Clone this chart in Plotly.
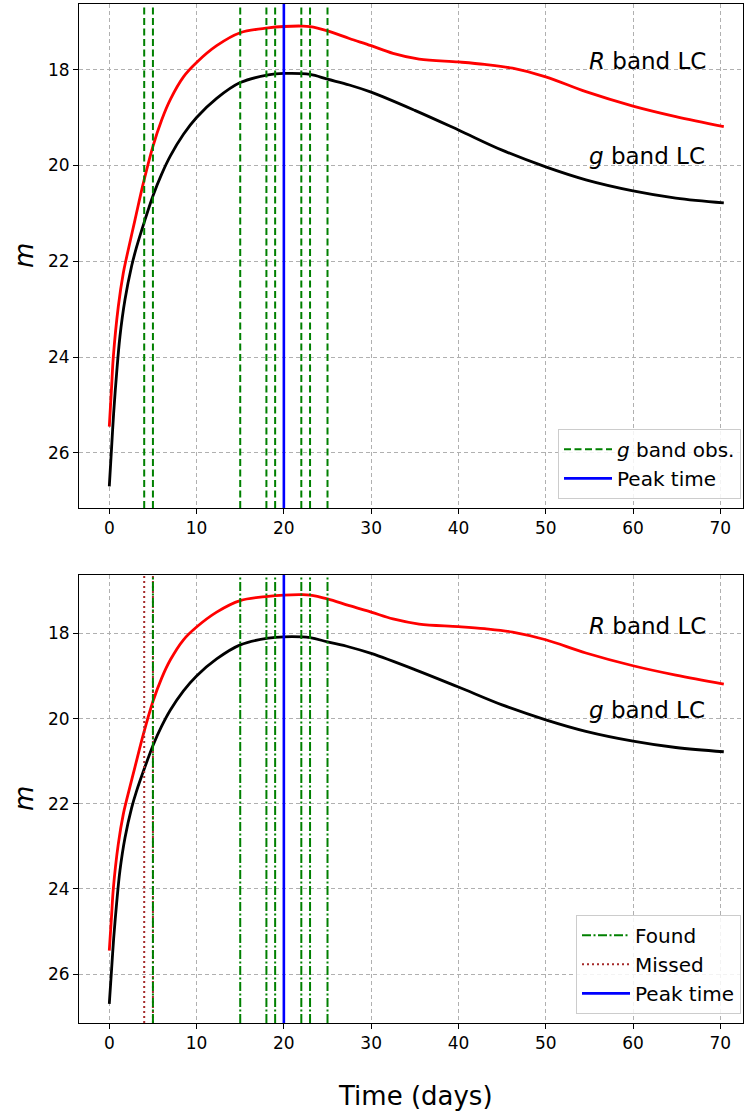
import plotly.graph_objects as go

# ---------------- data ----------------
r_time = [0, 0.27, 0.46, 1.03, 1.6, 2.0, 2.94, 3.9, 5.0, 6.0, 7.0, 8.5, 10, 12.3, 15,
          18.2, 20, 22, 23, 25, 27.5, 30, 32.5, 35.5, 40, 43, 46.2, 50, 54.6, 60, 64.9, 70.4]
r_mag = [25.45, 24.6, 24.0, 22.95, 22.25, 21.9, 21.14, 20.37, 19.6, 19.05, 18.62, 18.15,
         17.85, 17.5, 17.23, 17.13, 17.10, 17.09, 17.10, 17.19, 17.35, 17.5, 17.66, 17.78,
         17.84, 17.89, 17.97, 18.15, 18.46, 18.76, 18.98, 19.19]

g_time = [0, 0.27, 0.5, 0.84, 1.22, 1.8, 2.56, 3.13, 4.08, 5.03, 6.0, 7.0, 8.5, 10, 12.3,
          15, 18.2, 20, 23, 25, 27.5, 30, 35, 40, 45, 50, 54.6, 60, 64.9, 70.4]
g_mag = [26.7, 25.87, 25.17, 24.34, 23.57, 22.8, 22.1, 21.7, 21.14, 20.62, 20.18, 19.8, 19.35,
         19.0, 18.6, 18.27, 18.11, 18.08, 18.1, 18.2, 18.32, 18.47, 18.85, 19.26, 19.68,
         20.03, 20.3, 20.53, 20.68, 20.78]

g_obs = [4, 5, 15, 18, 19, 22, 23, 25]
found = [5, 15, 18, 19, 22, 23, 25]
missed = [4, 5]
peak_time = 20

x_ticks = [0, 10, 20, 30, 40, 50, 60, 70]
y_ticks = [18, 20, 22, 24, 26]

X_RANGE = [-3.47, 72.6]
Y_RANGE = [27.15, 16.63]

FONT = "DejaVu Sans"
GREEN = "#008000"
BROWN = "#a52a2a"
BLUE = "#0000ff"

fig = go.Figure()


def vlines(xs, axis_suffix, name, color, dash, width, legend, rank):
    for i, xv in enumerate(xs):
        fig.add_trace(go.Scatter(
            x=[xv, xv], y=Y_RANGE, mode="lines",
            line=dict(color=color, dash=dash, width=width),
            name=name, legend=legend, legendgroup=name + legend, legendrank=rank,
            showlegend=(i == 0),
            xaxis="x" + axis_suffix, yaxis="y" + axis_suffix, hoverinfo="skip"))


def curves(axis_suffix):
    fig.add_trace(go.Scatter(x=r_time, y=r_mag, mode="lines",
                             line=dict(color="#ff0000", width=2.8, shape="spline", smoothing=1.0),
                             showlegend=False, xaxis="x" + axis_suffix, yaxis="y" + axis_suffix))
    fig.add_trace(go.Scatter(x=g_time, y=g_mag, mode="lines",
                             line=dict(color="#000000", width=2.8, shape="spline", smoothing=1.0),
                             showlegend=False, xaxis="x" + axis_suffix, yaxis="y" + axis_suffix))


# top panel
curves("")
vlines(g_obs, "", "<i>g</i> band obs.", GREEN, "7px,3.5px", 2, "legend", 1)
vlines([peak_time], "", "Peak time", BLUE, "solid", 2.6, "legend", 2)

# bottom panel
curves("2")
vlines(missed, "2", "Missed", BROWN, "2px,3px", 2, "legend2", 2)
vlines(found, "2", "Found", GREEN, "9px,2.5px,2px,2.5px", 2, "legend2", 1)
vlines([peak_time], "2", "Peak time", BLUE, "solid", 2.6, "legend2", 3)

axis_common = dict(
    showline=True, linecolor="#000000", linewidth=1, mirror=True,
    showgrid=True, gridcolor="#b0b0b0", griddash="4px,3px", gridwidth=1,
    ticks="outside", ticklen=5, tickcolor="#000000", tickwidth=1,
    tickfont=dict(family=FONT, size=17, color="#000000"), zeroline=False,
)

TOP_BOTTOM = 0.5054
BOT_TOP = 0.4396

legend_common = dict(
    xanchor="right", yanchor="bottom",
    bgcolor="rgba(255,255,255,0.85)", bordercolor="#cccccc", borderwidth=1,
    font=dict(family=FONT, size=20, color="#000000"), tracegroupgap=0,
    traceorder="normal", itemwidth=48,
)

fig.update_layout(
    width=744, height=1112,
    margin=dict(l=79, r=1, t=4, b=89),
    paper_bgcolor="white", plot_bgcolor="white",
    font=dict(family=FONT, color="#000000"),
    xaxis=dict(domain=[0, 1], anchor="y", range=X_RANGE, tickvals=x_ticks, **axis_common),
    yaxis=dict(domain=[TOP_BOTTOM, 1], anchor="x", range=Y_RANGE, tickvals=y_ticks, **axis_common),
    xaxis2=dict(domain=[0, 1], anchor="y2", range=X_RANGE, tickvals=x_ticks, **axis_common),
    yaxis2=dict(domain=[0, BOT_TOP], anchor="x2", range=Y_RANGE, tickvals=y_ticks, **axis_common),
    legend=dict(x=0.997, y=TOP_BOTTOM + 0.009, **legend_common),
    legend2=dict(x=0.997, y=0.009, **legend_common),
    showlegend=True,
)

ann_font = dict(family=FONT, size=23, color="#000000")
for sfx in ["", "2"]:
    fig.add_annotation(x=55, y=17.82, xref="x" + sfx, yref="y" + sfx, text="<i>R</i> band LC",
                       showarrow=False, xanchor="left", yanchor="middle", font=ann_font, xshift=-2)
    fig.add_annotation(x=55, y=19.81, xref="x" + sfx, yref="y" + sfx, text="<i>g</i> band LC",
                       showarrow=False, xanchor="left", yanchor="middle", font=ann_font, xshift=-2)

# axis titles
title_font = dict(family=FONT, size=26, color="#000000")
fig.add_annotation(x=0, y=(TOP_BOTTOM + 1) / 2, xref="paper", yref="paper", text="<i>m</i>",
                   showarrow=False, textangle=-90, font=title_font, xanchor="center", yanchor="middle",
                   xshift=-55)
fig.add_annotation(x=0, y=BOT_TOP / 2, xref="paper", yref="paper", text="<i>m</i>",
                   showarrow=False, textangle=-90, font=title_font, xanchor="center", yanchor="middle",
                   xshift=-55)
fig.add_annotation(x=0.5, y=0, xref="paper", yref="paper", text="Time (days)",
                   showarrow=False, font=title_font, xanchor="center", yanchor="middle",
                   yshift=-73, xshift=4)

fig.write_html("out.html")
